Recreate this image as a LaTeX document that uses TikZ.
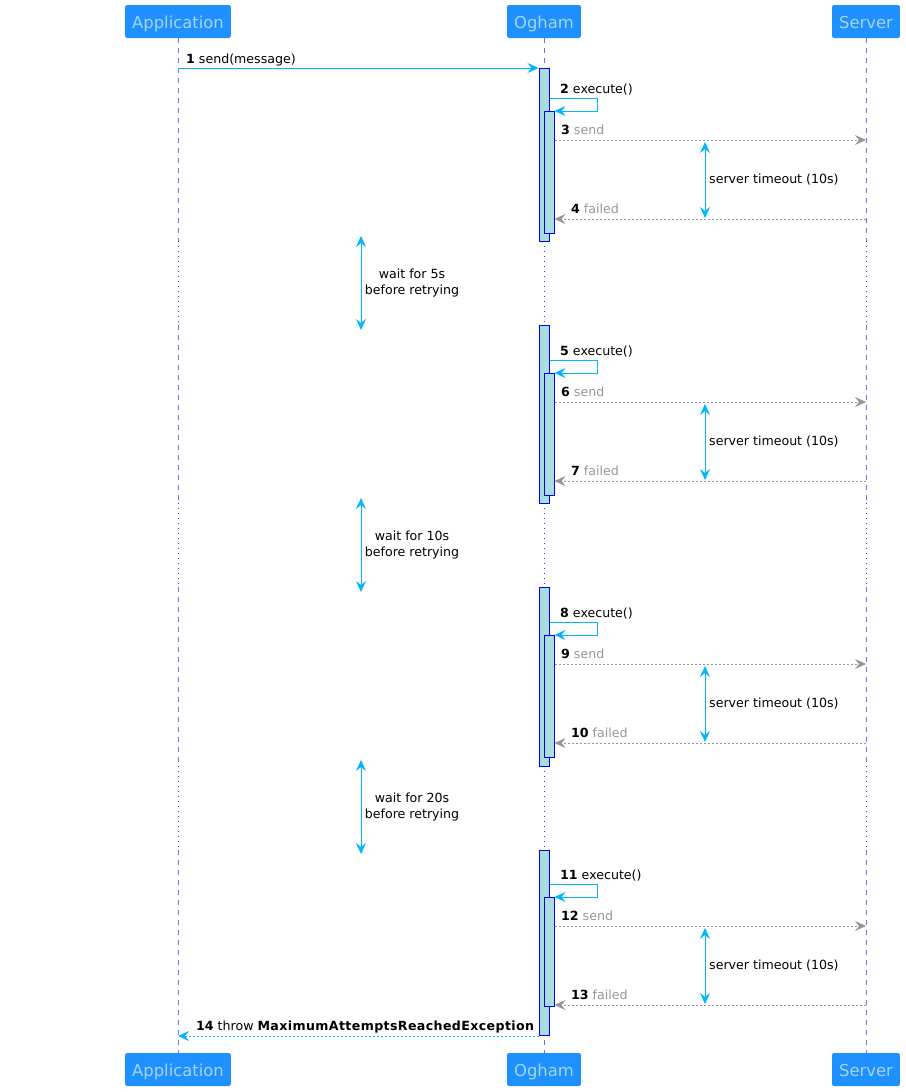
\documentclass[tikz,border=0pt]{standalone}
\usepackage{fontspec}
\setmainfont{DejaVu Sans}
\usetikzlibrary{arrows.meta,positioning,calc}
\definecolor{partblue}{RGB}{30,144,255}
\definecolor{parttext}{RGB}{165,213,235}
\definecolor{lifeblue}{RGB}{110,110,255}
\definecolor{msgcyan}{RGB}{0,183,255}
\definecolor{msggray}{RGB}{150,150,150}
\definecolor{barfill}{RGB}{170,221,224}
\definecolor{barline}{RGB}{0,0,255}
\newcommand{\lblfont}{\fontsize{12.6}{15.7}\selectfont}

\tikzset{
  participant/.style={rectangle, rounded corners=2pt, fill=partblue, text=parttext,
    font=\fontsize{16.4}{18}\selectfont, minimum height=33pt, text height=13.6pt, text depth=0pt,
    inner xsep=7pt, inner ysep=0pt},
  lifeline/.style={lifeblue, line width=0.8pt, dash pattern=on 5pt off 5pt},
  delayline/.style={barline!80!white, line width=0.9pt, dash pattern=on 1.2pt off 3.8pt},
  actbar/.style={draw=barline, fill=barfill, line width=1pt, minimum width=10pt, inner sep=0pt, anchor=north},
  call/.style={msgcyan, line width=1pt, -{Stealth[length=11pt,width=10pt,inset=4pt]}},
  reply/.style={msggray, line width=0.8pt, dash pattern=on 2pt off 2pt, -{Stealth[length=11pt,width=10pt,inset=4pt]}},
  throw/.style={msgcyan, line width=0.8pt, dash pattern=on 2pt off 2pt, -{Stealth[length=11pt,width=10pt,inset=4pt]}},
  span/.style={msgcyan, line width=1pt, {Stealth[length=11pt,width=10pt,inset=4pt]}-{Stealth[length=11pt,width=10pt,inset=4pt]}},
  lbl/.style={font=\lblfont, anchor=base west, inner sep=0pt},
  note/.style={font=\lblfont, align=center, inner sep=0pt},
}

\begin{document}
\begin{tikzpicture}[x=1pt,y=-1pt]
  \useasboundingbox (0,0) rectangle (905,1092);

  % Participants, top and bottom
  \node[participant] (app-head) at (178,21.5) {Application};
  \node[participant] (ogham-head) at (544,21.5) {Ogham};
  \node[participant] (server-head) at (866,21.5) {Server};
  \node[participant] (app-foot) at (178,1069.5) {Application};
  \node[participant] (ogham-foot) at (544,1069.5) {Ogham};
  \node[participant] (server-foot) at (866,1069.5) {Server};

  % Delay gaps
  \foreach \g/\ya/\yb in {1/241/325,2/503/587,3/766/850}{
    \coordinate (gap\g-top) at (0,\ya);
    \coordinate (gap\g-bot) at (0,\yb);
  }

  % Lifelines
  \foreach \p in {app,ogham,server}{
    \draw[lifeline] (\p-head.south) -- (\p-head.south |- gap1-top);
    \draw[lifeline] (\p-head.south |- gap1-bot) -- (\p-head.south |- gap2-top);
    \draw[lifeline] (\p-head.south |- gap2-bot) -- (\p-head.south |- gap3-top);
    \draw[lifeline] (\p-head.south |- gap3-bot) -- (\p-foot.north);
    \foreach \g in {1,2,3}
      \draw[delayline] (\p-head.south |- gap\g-top) -- (\p-head.south |- gap\g-bot);
  }

  % Retry blocks
  \foreach \k/\top/\bot in {1/68/241,2/325/503,3/587/766,4/850/1035}{
    \pgfmathtruncatemacro{\o}{262*(\k-1)}
    \pgfmathtruncatemacro{\na}{3*\k-1}
    \pgfmathtruncatemacro{\nb}{3*\k}
    \pgfmathtruncatemacro{\nc}{3*\k+1}
    \pgfmathtruncatemacro{\hout}{\bot-\top}
    \ifnum\k<4 \def\hin{122}\else\def\hin{109}\fi
    \node[actbar, minimum height=\hout pt] (act\k) at (544,\top) {};
    \node[actbar, minimum height=\hin pt] (exec\k) at (549,111+\o) {};

    % execute()
    \coordinate (loop\k) at (597,98+\o);
    \draw[call] (act\k.east |- loop\k) -- (loop\k) -- ++(0,13) -- (exec\k.north east);
    \node[lbl] (exec\k-lbl) at (560,93+\o) {\textbf{\na} execute()};

    % send and failed
    \coordinate (send\k) at (866,140+\o);
    \coordinate (fail\k) at (866,219+\o);
    \draw[reply] (exec\k.east |- send\k) -- (send\k);
    \node[lbl] (send\k-lbl) at (561,134+\o) {\textbf{\nb} \textcolor{msggray}{send}};
    \draw[reply] (fail\k) -- (exec\k.east |- fail\k);
    \node[lbl] (fail\k-lbl) at (571,213+\o) {\textbf{\nc} \textcolor{msggray}{failed}};

    % server timeout
    \coordinate (tout\k-a) at (705,142+\o);
    \coordinate (tout\k-b) at (705,218+\o);
    \draw[span] (tout\k-a) -- (tout\k-b);
    \node[font=\lblfont, anchor=west, inner sep=0pt] (tout\k-lbl) at (709,180+\o) {server timeout (10s)};
  }

  % Waiting between retries
  \foreach \k/\w in {1/5s,2/10s,3/20s}{
    \pgfmathtruncatemacro{\o}{262*(\k-1)}
    \coordinate (wait\k-a) at (361,236+\o);
    \coordinate (wait\k-b) at (361,330+\o);
    \draw[span] (wait\k-a) -- (wait\k-b);
    \node[note] (wait\k) at (412,283+\o) {wait for \w\\before retrying};
  }

  % First call and final exception
  \draw[call] (app-head.south |- act1.north) -- (act1.north west);
  \node[lbl] (send-lbl) at (186,63) {\textbf{1} send(message)};
  \draw[throw] (act4.south west) -- (app-head.south |- act4.south);
  \node[lbl] (throw-lbl) at (196,1030) {\textbf{14} throw \textbf{\addfontfeatures{LetterSpace=3}MaximumAttemptsReachedException}};
\end{tikzpicture}
\end{document}
